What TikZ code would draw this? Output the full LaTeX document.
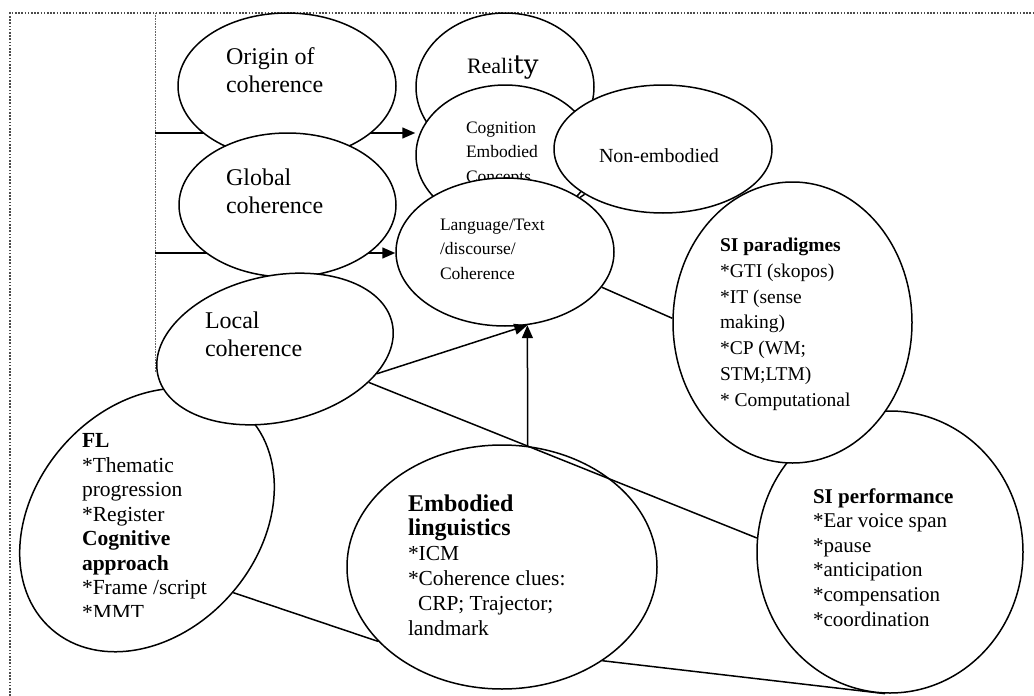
\documentclass[tikz,border=0pt]{standalone}
\usepackage{fontspec}
\setmainfont{Liberation Serif}
\newfontfamily\widefont{DejaVu Serif}
\usetikzlibrary{shapes.geometric,arrows.meta}
\pgfdeclarelayer{background}
\pgfsetlayers{background,main}
\begin{document}
\begin{tikzpicture}[x=1pt,y=-1pt,
  bubble/.style={ellipse, draw, fill=white, line width=1.5pt, inner sep=0pt},
  % text blocks are placed by the baseline of their last line
  txt/.style={anchor=base west, align=left, inner sep=0pt, outer sep=0pt},
  big/.style={font=\fontsize{24}{28}\selectfont},
  small/.style={font=\fontsize{17.5}{24.5}\selectfont},
  link/.style={line width=1.5pt},
  arr/.style={line width=1.5pt, -{Triangle[length=13pt,width=11pt]}},
  frameline/.style={line width=1.6pt, black!70, dash pattern=on 1.6pt off 1.6pt},
  guide/.style={line width=0.6pt, black!60, dash pattern=on 0.8pt off 0.8pt}]
\useasboundingbox (0,0) rectangle (1034,696);

% ---------- bubbles (later ones overlap earlier ones) ----------
\node[bubble, minimum width=178pt, minimum height=148pt] (real) at (505,87) {};
\node[txt, font=\fontsize{22}{24}\selectfont] (realtxt) at (467,73)
  {Reali{\widefont\fontsize{26}{26}\selectfont ty}};

\node[bubble, minimum width=178pt, minimum height=140pt] (cog) at (505,155) {};
\node[txt, small] (cogtxt) at (466,182) {Cognition\\Embodied\\Concepts};

\node[bubble, minimum width=218pt, minimum height=128pt] (nonemb) at (663,149) {};
\node[txt, font=\fontsize{20}{24}\selectfont] (nonembtxt) at (599,162) {Non-embodied};

\node[bubble, minimum width=218pt, minimum height=148pt] (lang) at (505,252) {};
\node[txt, small] (langtxt) at (440,279) {Language/Text\\/discourse/\\Coherence};

\node[bubble, minimum width=218pt, minimum height=146pt] (origin) at (287,86) {};
\node[txt, big] (origintxt) at (226,92) {Origin of\\coherence};

\node[bubble, minimum width=217pt, minimum height=144pt] (global) at (287.5,205) {};
\node[txt, big] (globaltxt) at (226,213) {Global\\coherence};

\node[bubble, minimum width=290pt, minimum height=224pt, rotate=48.9] (fl) at (147,520) {};
\begin{scope}
  \clip (0,0) rectangle (400,616);
  \node[txt, font=\fontsize{21.5}{24.5}\selectfont] (fltxt) at (82,619)
    {\textbf{FL}\\{}*Thematic\\progression\\{}*Register\\\textbf{Cognitive}\\\textbf{approach}\\{}*Frame /script\\{}*MMT};
\end{scope}

\node[bubble, minimum width=240pt, minimum height=146pt, rotate=12.4] (local) at (275,349) {};
\node[txt, big] (localtxt) at (205,356) {Local\\coherence};

\node[bubble, minimum width=310pt, minimum height=244pt] (emb) at (502,567) {};
\node[txt, font=\fontsize{21.4}{24.8}\selectfont] (embtxt) at (408,635)
  {{\fontsize{24}{24}\selectfont\bfseries Embodied}\\{\fontsize{24}{24}\selectfont\bfseries linguistics}\\{}*ICM\\{}*Coherence clues:\\\hspace*{10pt}CRP; Trajector;\\landmark};

\node[bubble, minimum width=266pt, minimum height=282pt] (sipf) at (890,552) {};
\node[txt, font=\fontsize{21}{24.6}\selectfont] (sipftxt) at (813,626)
  {\textbf{SI performance}\\{}*Ear voice span\\{}*pause\\{}*anticipation\\{}*compensation\\{}*coordination};

\node[bubble, minimum width=239pt, minimum height=281pt] (sip) at (792.5,322.5) {};
\node[txt, font=\fontsize{19.5}{25.7}\selectfont] (siptxt) at (720,406)
  {\textbf{SI paradigmes}\\{}*GTI (skopos)\\{}*IT (sense\\making)\\{}*CP (WM;\\STM;LTM)\\{}* Computational};

% ---------- frame, guide and connectors behind the bubbles ----------
\begin{pgfonlayer}{background}
  \coordinate (f0) at (10,696);
  \coordinate (f1) at (10,13);
  \coordinate (f2) at (1034,13);
  \draw[frameline] (f0) -- (f1) -- (f2);
  \coordinate (g0) at (155,13);
  \coordinate (g1) at (155,373);
  \draw[guide] (g0) -- (g1);
  \coordinate (h1) at (155,133);
  \coordinate (h2) at (155,253);
  \draw[arr] (h1) -- (h1 -| cog.west);
  \draw[arr] (h2) -- (h2 -| lang.west);
  \draw[link] (lang.36) -- (nonemb.210);
  \draw[link] (lang.-20) -- (sip.178);
  \draw[link] (fl.-89) -- (emb.211);
  \draw[link] (emb.-43) -- (sipf.-92);
\end{pgfonlayer}

% ---------- connectors on top ----------
\draw[link] (local.-32) -- (sipf.174);
\draw[arr] (local.-26) -- (lang.-73);
\draw[arr] (emb.78) -- (lang.-73);
\end{tikzpicture}
\end{document}
